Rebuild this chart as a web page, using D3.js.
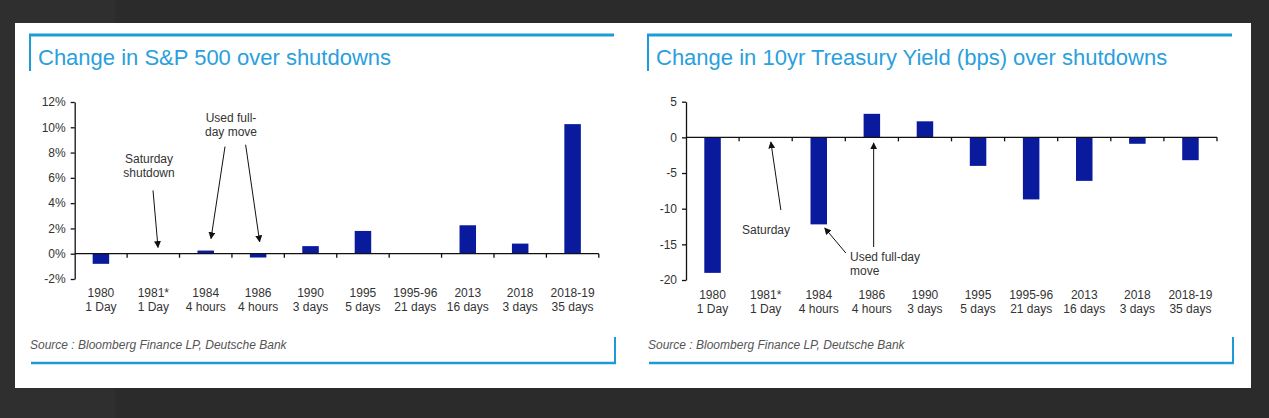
<!DOCTYPE html>
<html>
<head>
<meta charset="utf-8">
<script src="https://cdn.jsdelivr.net/npm/d3@7"></script>
<style>
  html, body { margin: 0; padding: 0; background: #2b2b2b; }
  svg { display: block; }
  text { font-family: "Liberation Sans", Arial, sans-serif; }
</style>
</head>
<body>
<div id="chart"></div>
<script>
// shutdown categories, two lines each
const years = ["1980", "1981*", "1984", "1986", "1990", "1995", "1995-96", "2013", "2018", "2018-19"]
const durations = ["1 Day", "1 Day", "4 hours", "4 hours", "3 days", "5 days", "21 days", "16 days", "3 days", "35 days"]

// % change in S&P 500
const spxChange = [-0.8, 0, 0.25, -0.3, 0.6, 1.8, 0.02, 2.25, 0.8, 10.25]
const spxTicks = [12, 10, 8, 6, 4, 2, 0, -2]

// change in 10yr yield, bps
const yieldChange = [-19, 0, -12.2, 3.3, 2.25, -4, -8.7, -6.1, -0.9, -3.2]
const yieldTicks = [5, 0, -5, -10, -15, -20]

const width = 1269
const height = 418
const blue = "#1d9bd8"
const barColor = "#0a1a9c"

const svg = d3.select("#chart")
  .append("svg")
  .attr("width", width)
  .attr("height", height)

// dark page behind the white card
svg.append("rect").attr("width", width).attr("height", height).attr("fill", "#2b2b2b")
svg.append("rect").attr("x", 0).attr("y", 0).attr("width", 115).attr("height", height).attr("fill", "#2f2f2f")
svg.append("rect").attr("x", 15).attr("y", 23).attr("width", 1236).attr("height", 365).attr("fill", "#fff")

// arrow head
svg.append("defs").append("marker")
  .attr("id", "arrow")
  .attr("viewBox", "0 0 10 10")
  .attr("refX", 9).attr("refY", 5)
  .attr("markerWidth", 7).attr("markerHeight", 7)
  .attr("markerUnits", "userSpaceOnUse")
  .attr("orient", "auto")
  .append("path")
  .attr("d", "M0,0 L10,5 L0,10 z")
  .attr("fill", "#111")

function drawChart(opt) {
  const g = svg.append("g")

  // title frame
  g.append("line")
    .attr("x1", opt.frameLeft).attr("x2", opt.frameRight)
    .attr("y1", 35).attr("y2", 35)
    .attr("stroke", blue).attr("stroke-width", 3)
  g.append("line")
    .attr("x1", opt.frameLeft + 1).attr("x2", opt.frameLeft + 1)
    .attr("y1", 34).attr("y2", 71)
    .attr("stroke", blue).attr("stroke-width", 2)
  g.append("text")
    .attr("x", opt.frameLeft + 9).attr("y", 65)
    .attr("fill", "#2aa0dc")
    .style("font-size", "22px")
    .text(opt.title)

  const x = d3.scaleBand()
    .domain(years)
    .range(opt.xRange)

  const y = d3.scaleLinear()
    .domain(opt.yDomain)
    .range(opt.yRange)

  // y axis
  const yAxis = g.append("g")
    .attr("transform", "translate(" + opt.xRange[0] + ",0)")
    .call(d3.axisLeft(y)
      .tickValues(opt.ticks)
      .tickSize(4)
      .tickSizeOuter(0)
      .tickPadding(5)
      .tickFormat(opt.tickFormat))
  yAxis.select(".domain").attr("stroke", "#111").attr("stroke-width", 1.3)
  yAxis.selectAll(".tick line").attr("stroke", "#111").attr("stroke-width", 1.3)
  yAxis.selectAll(".tick text")
    .attr("fill", "#333")
    .style("font-size", "12px")
    .style("font-family", "'Liberation Sans', Arial, sans-serif")

  // bars
  const barW = 16.5
  g.selectAll(".bar")
    .data(opt.values)
    .enter()
    .append("rect")
    .attr("class", "bar")
    .attr("x", (d, i) => x(years[i]) + x.bandwidth() / 2 - barW / 2)
    .attr("y", d => y(Math.max(0, d)))
    .attr("width", barW)
    .attr("height", d => Math.abs(y(d) - y(0)))
    .attr("fill", barColor)

  // x axis at zero with ticks between categories
  g.append("line")
    .attr("x1", opt.xRange[0]).attr("x2", opt.xRange[1])
    .attr("y1", y(0)).attr("y2", y(0))
    .attr("stroke", "#111").attr("stroke-width", 1.3)
  const bounds = years.slice(1).map(c => x(c)).concat([opt.xRange[1]])
  g.selectAll(".xtick")
    .data(bounds)
    .enter()
    .append("line")
    .attr("x1", d => d).attr("x2", d => d)
    .attr("y1", y(0)).attr("y2", y(0) + 4)
    .attr("stroke", "#111").attr("stroke-width", 1.3)

  // category labels
  const labels = g.selectAll(".cat")
    .data(years)
    .enter()
    .append("text")
    .attr("text-anchor", "middle")
    .attr("fill", "#333")
    .style("font-size", "12px")
  labels.append("tspan")
    .attr("x", d => x(d) + x.bandwidth() / 2)
    .attr("y", opt.labelY)
    .text(d => d)
  labels.append("tspan")
    .attr("x", d => x(d) + x.bandwidth() / 2)
    .attr("y", opt.labelY + 14)
    .text((d, i) => durations[i])

  // annotations
  opt.arrows.forEach(function (a) {
    const tx = x(a.cat) + x.bandwidth() / 2 + a.dx
    const ty = y(a.v)
    g.append("line")
      .attr("x1", tx + a.tail[0]).attr("y1", ty + a.tail[1])
      .attr("x2", tx).attr("y2", ty)
      .attr("stroke", "#111").attr("stroke-width", 1)
      .attr("marker-end", "url(#arrow)")
  })
  opt.notes.forEach(function (n) {
    const t = g.append("text")
      .attr("text-anchor", n.anchor)
      .attr("fill", "#333")
      .style("font-size", "12px")
    n.lines.forEach(function (line, i) {
      t.append("tspan")
        .attr("x", n.x)
        .attr("y", n.y + i * 13.5)
        .text(line)
    })
  })

  // source box
  g.append("text")
    .attr("x", opt.frameLeft + 1).attr("y", 349)
    .attr("fill", "#555")
    .style("font-size", "12px")
    .style("font-style", "italic")
    .text("Source : Bloomberg Finance LP, Deutsche Bank")
  g.append("line")
    .attr("x1", opt.frameLeft + 2).attr("x2", opt.frameRight + 2)
    .attr("y1", 363).attr("y2", 363)
    .attr("stroke", blue).attr("stroke-width", 2.5)
  g.append("line")
    .attr("x1", opt.frameRight + 1).attr("x2", opt.frameRight + 1)
    .attr("y1", 337).attr("y2", 364)
    .attr("stroke", blue).attr("stroke-width", 2)
}

drawChart({
  title: "Change in S&P 500 over shutdowns",
  frameLeft: 29,
  frameRight: 614,
  xRange: [74.7, 598.8],
  yDomain: [-2, 12],
  yRange: [279, 102],
  ticks: spxTicks,
  tickFormat: d => d + "%",
  values: spxChange,
  labelY: 297,
  arrows: [
    { cat: "1981*", dx: 4.7, v: 0.5, tail: [-5, -57] },
    { cat: "1984", dx: 5.3, v: 1.2, tail: [14, -92] },
    { cat: "1986", dx: 1.5, v: 0.95, tail: [-14, -97] }
  ],
  notes: [
    { x: 149, y: 163, anchor: "middle", lines: ["Saturday", "shutdown"] },
    { x: 231, y: 122, anchor: "middle", lines: ["Used full-", "day move"] }
  ]
})

drawChart({
  title: "Change in 10yr Treasury Yield (bps) over shutdowns",
  frameLeft: 647,
  frameRight: 1232,
  xRange: [686, 1217],
  yDomain: [-20, 5],
  yRange: [280, 101.7],
  ticks: yieldTicks,
  tickFormat: d => d,
  values: yieldChange,
  labelY: 299,
  arrows: [
    { cat: "1981*", dx: 5.2, v: -0.65, tail: [10, 68] },
    { cat: "1984", dx: 6, v: -12.7, tail: [21, 25] },
    { cat: "1986", dx: 1.8, v: -0.8, tail: [0, 104] }
  ],
  notes: [
    { x: 766, y: 234, anchor: "middle", lines: ["Saturday"] },
    { x: 850, y: 261, anchor: "start", lines: ["Used full-day", "move"] }
  ]
})
</script>
</body>
</html>
